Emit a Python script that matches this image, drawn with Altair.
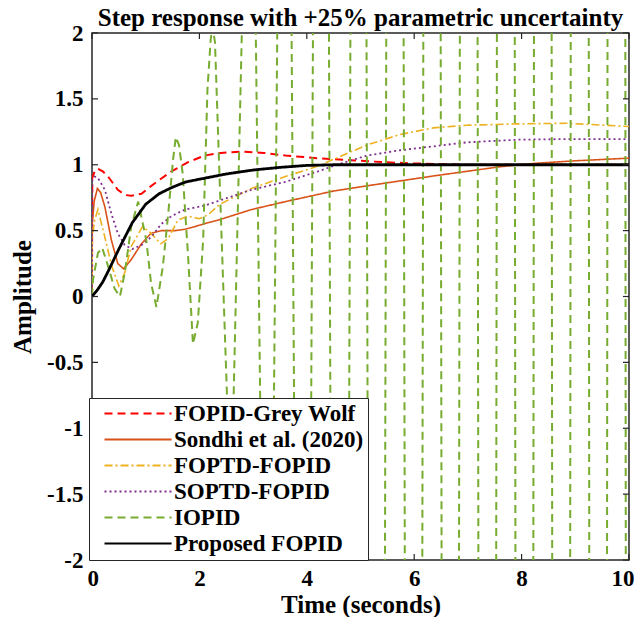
import altair as alt
import pandas as pd

# ---------------- data ----------------
series = ["FOPID-Grey Wolf", "Sondhi et al. (2020)", "FOPTD-FOPID",
          "SOPTD-FOPID", "IOPID", "Proposed FOPID"]

gw_t = [0, 0.005, 0.05, 0.11, 0.2, 0.3, 0.48, 0.62, 0.73, 0.92, 1.17, 1.48, 1.79,
        2.1, 2.4, 2.8, 3.2, 3.6, 4.2, 4.8, 5.4, 6.0, 7.0, 8.0, 10.0]
gw_y = [0, 0.90, 0.95, 0.97, 0.95, 0.91, 0.81, 0.77, 0.765, 0.78, 0.86, 0.95, 1.02,
        1.07, 1.09, 1.10, 1.09, 1.07, 1.05, 1.035, 1.02, 1.01, 1.0, 1.0, 1.0]

so_t = [0, 0.005, 0.04, 0.10, 0.16, 0.24, 0.36, 0.48, 0.59, 0.73, 0.92, 1.10, 1.29,
        1.54, 1.73, 1.91, 2.16, 2.35, 2.97, 3.6, 4.49, 5.12, 6.36, 7.6, 8.22, 9.0, 10.0]
so_y = [0, 0.55, 0.72, 0.82, 0.79, 0.68, 0.43, 0.25, 0.21, 0.28, 0.40, 0.48, 0.50,
        0.50, 0.51, 0.53, 0.56, 0.58, 0.66, 0.72, 0.80, 0.84, 0.915, 0.985, 1.01, 1.03, 1.05]

fo_t = [0, 0.005, 0.05, 0.11, 0.24, 0.36, 0.5, 0.61, 0.73, 0.94, 1.1, 1.28, 1.42,
        1.6, 1.79, 2.0, 2.16, 2.38, 2.97, 3.6, 4.21, 4.49, 5.12, 5.74, 6.36, 6.98,
        7.91, 8.84, 10.0]
fo_y = [0, 0.45, 0.58, 0.66, 0.45, 0.24, 0.08, 0.18, 0.38, 0.53, 0.48, 0.40, 0.44,
        0.58, 0.61, 0.59, 0.62, 0.70, 0.82, 0.91, 0.99, 1.04, 1.15, 1.23, 1.28, 1.30,
        1.31, 1.315, 1.29]

sp_t = [0, 0.005, 0.05, 0.11, 0.24, 0.36, 0.48, 0.61, 0.75, 0.92, 1.10, 1.29, 1.48,
        1.73, 2.1, 2.35, 2.97, 3.6, 4.21, 4.49, 5.12, 5.74, 6.36, 6.98, 7.91, 8.84, 10.0]
sp_y = [0, 0.88, 0.91, 0.90, 0.81, 0.63, 0.48, 0.39, 0.36, 0.39, 0.45, 0.55, 0.61,
        0.66, 0.69, 0.725, 0.81, 0.87, 0.95, 0.99, 1.07, 1.11, 1.14, 1.17, 1.19, 1.195, 1.195]

io_t = [0, 0.02, 0.11, 0.19, 0.30, 0.42, 0.52, 0.61, 0.73, 0.86, 1.01, 1.10, 1.20,
        1.32, 1.42, 1.51, 1.56, 1.62, 1.69, 1.79, 1.88, 1.97, 2.07, 2.15, 2.21, 2.245,
        2.29, 2.51, 2.575, 2.64, 2.79, 2.92, 3.05, 3.13, 3.26, 3.39, 3.45, 3.60, 3.95,
        4.28, 4.63, 4.97, 5.31, 5.65, 6.00, 6.34, 6.68, 7.02, 7.37, 7.71, 8.06, 8.40,
        8.74, 9.09, 9.43, 9.77, 10.11]
io_y = [0, 0.13, 0.33, 0.37, 0.23, 0.06, 0.0, 0.18, 0.53, 0.72, 0.43, 0.10, -0.08,
        0.23, 0.63, 1.04, 1.21, 1.15, 0.93, 0.30, -0.36, -0.2, 0.43, 1.57, 1.95, 2.05,
        1.93, -0.71, -1.6, -0.71, 2.0, 4.5, 2.0, -0.71, -5.5, -0.71, 2.0, 9, -12,
        16, -21, 22, -26, 30, -34, 38, -42, 46, -50, 54, -58, 62,
        -66, 70, -74, 78, -82]

pr_t = [0, 0.1, 0.2, 0.3, 0.5, 0.75, 1.0, 1.25, 1.5, 1.75, 2.0, 2.5, 3.0, 3.5, 4.0,
        4.5, 5.0, 6.0, 8.0, 10.0]
pr_y = [0, 0.05, 0.11, 0.19, 0.36, 0.56, 0.70, 0.78, 0.83, 0.87, 0.89, 0.93, 0.96,
        0.98, 0.995, 1.0, 1.0, 1.0, 1.0, 1.0]

x_ticks = [0, 2, 4, 6, 8, 10]
y_ticks = [-2, -1.5, -1, -0.5, 0, 0.5, 1, 1.5, 2]

# ---------------- styles ----------------
colors = ["#FF0000", "#D95319", "#EDB120", "#7E2F8E", "#77AC30", "#000000"]
dashes = [[8, 5], [1, 0], [8, 3, 2, 3], [2, 3], [8, 5], [1, 0]]
widths = [2.0, 1.6, 1.6, 1.8, 2.0, 2.8]

W, H = 537, 527
FONT = "Liberation Serif"

pairs = [(gw_t, gw_y), (so_t, so_y), (fo_t, fo_y), (sp_t, sp_y), (io_t, io_y), (pr_t, pr_y)]
frames = []
for name, (ts, ys) in zip(series, pairs):
    frames.append(pd.DataFrame({"t": ts, "y": ys, "series": name}))
df = pd.concat(frames, ignore_index=True)

X = alt.X("t:Q", scale=alt.Scale(domain=[0, 10], nice=False, zero=False),
          axis=alt.Axis(values=x_ticks, title="Time (seconds)", labelPadding=7,
                        titlePadding=2, labelFlush=True, labelFlushOffset=5,
                        labelExpr="'' + datum.value"))
Y = alt.Y("y:Q", scale=alt.Scale(domain=[-2, 2], nice=False, zero=False),
          axis=alt.Axis(values=y_ticks, title="Amplitude", labelPadding=9,
                        titlePadding=11, labelFlush=False,
                        labelExpr="'' + datum.value"))

leg = alt.Legend(title=None)
color = alt.Color("series:N", scale=alt.Scale(domain=series, range=colors), legend=leg)
sdash = alt.StrokeDash("series:N", scale=alt.Scale(domain=series, range=dashes), legend=leg)

layers = []
for name, wdt in zip(series, widths):
    layers.append(
        alt.Chart(df).transform_filter(alt.datum.series == name)
        .mark_line(clip=True, strokeWidth=wdt)
        .encode(x=X, y=Y, color=color, strokeDash=sdash)
    )

tx = pd.DataFrame({"t": x_ticks})
ty = pd.DataFrame({"y": y_ticks})
tick_style = dict(color="#262626", strokeWidth=1.2)
layers.append(alt.Chart(tx).mark_rule(**tick_style).encode(x=X, y=alt.value(H), y2=alt.value(H - 6)))
layers.append(alt.Chart(tx).mark_rule(**tick_style).encode(x=X, y=alt.value(0), y2=alt.value(6)))
layers.append(alt.Chart(ty).mark_rule(**tick_style).encode(y=Y, x=alt.value(0), x2=alt.value(6)))
layers.append(alt.Chart(ty).mark_rule(**tick_style).encode(y=Y, x=alt.value(W), x2=alt.value(W - 6)))

chart = (
    alt.layer(*layers)
    .properties(
        width=W, height=H,
        title=alt.Title("Step response with +25% parametric uncertainty",
                        anchor="middle", frame="group", offset=0, dy=9),
        autosize=alt.AutoSizeParams(type="none"),
        padding={"left": 84, "top": 25, "right": 5, "bottom": 57},
    )
    .configure_view(stroke="#262626", strokeWidth=1.5)
    .configure_axis(domain=False, ticks=False, grid=False,
                    labelFont=FONT, labelFontWeight="bold", labelFontSize=23,
                    labelColor="black", titleFont=FONT, titleFontWeight="bold",
                    titleFontSize=25, titleColor="black")
    .configure_title(font=FONT, fontWeight="bold", fontSize=25, color="black")
    .configure_legend(orient="none", legendX=-3, legendY=365,
                      fillColor="white", strokeColor="#262626", padding=4,
                      symbolType="M0,0H20", symbolSize=45, labelOffset=58,
                      symbolStrokeWidth=2,
                      labelFont=FONT, labelFontWeight="bold", labelFontSize=23,
                      labelColor="black", labelLimit=400, rowPadding=2)
)

chart.save("out.html", embed_options={"renderer": "svg", "actions": False})
